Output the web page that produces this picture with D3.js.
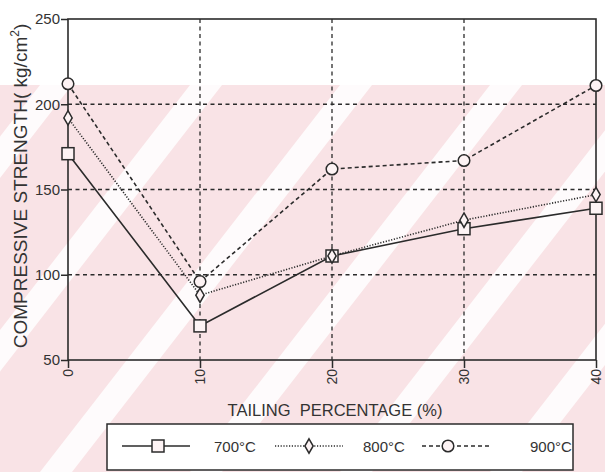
<!DOCTYPE html>
<html>
<head>
<meta charset="utf-8">
<script src="https://cdn.jsdelivr.net/npm/d3@7"></script>
<style>
  html, body { margin: 0; padding: 0; background: #fff; }
  svg { display: block; font-family: "Liberation Sans", Arial, Helvetica, sans-serif; }
</style>
</head>
<body>
<div id="chart"></div>
<script>
// ---- data ----
const categories = [0, 10, 20, 30, 40];
const s700 = [171, 70, 111, 127, 139];
const s800 = [192, 88, 111, 132, 147];
const s900 = [212, 96, 162, 167, 211];
const yTicks = [50, 100, 150, 200, 250];
const seriesNames = ["700°C", "800°C", "900°C"];

const W = 605, H = 472;
const svg = d3.select("#chart").append("svg").attr("width", W).attr("height", H);

// background watermark (decoration)
const bg = svg.append("g");
bg.append("rect").attr("x", 0).attr("y", 85).attr("width", W).attr("height", H - 85).attr("fill", "#f9e3e6");
const stripeOffsets = [-260, -110, 40, 190, 340, 490, 640];
stripeOffsets.forEach(o => {
  bg.append("polygon")
    .attr("points", `${o},${H} ${o + 32},${H} ${o + 32 + 300},85 ${o + 300},85`)
    .attr("fill", "#ffffff").attr("opacity", 0.85);
});

const x = d3.scaleLinear().domain([0, 40]).range([68, 596]);
const y = d3.scaleLinear().domain([50, 250]).range([360, 19]);
const ink = "#2b2b2b";

// grid (dashed)
const grid = svg.append("g").attr("stroke", ink).attr("stroke-width", 1.3).attr("stroke-dasharray", "4,3.5");
[100, 150, 200].forEach(v => grid.append("line").attr("x1", x(0)).attr("x2", x(40)).attr("y1", y(v)).attr("y2", y(v)));
[10, 20, 30].forEach(v => grid.append("line").attr("x1", x(v)).attr("x2", x(v)).attr("y1", y(250)).attr("y2", y(50)));

// frame
svg.append("rect").attr("x", x(0)).attr("y", y(250)).attr("width", x(40) - x(0)).attr("height", y(50) - y(250))
  .attr("fill", "none").attr("stroke", ink).attr("stroke-width", 1.6);

// axes
const yAxis = d3.axisLeft(y).tickValues(yTicks).tickSize(7).tickPadding(1).tickFormat(d3.format("d"));
const gy = svg.append("g").attr("transform", `translate(${x(0)},0)`).call(yAxis);
gy.select(".domain").remove();
gy.selectAll("line").attr("stroke", ink).attr("stroke-width", 1.5);
gy.selectAll("text").attr("font-size", 15).attr("fill", "#333").attr("font-family", "Liberation Sans, Arial, sans-serif");

const xAxis = d3.axisBottom(x).tickValues(categories).tickSize(8).tickFormat(d3.format("d"));
const gx = svg.append("g").attr("transform", `translate(0,${y(50)})`).call(xAxis);
gx.select(".domain").remove();
gx.selectAll("line").attr("stroke", ink).attr("stroke-width", 1.5);
gx.selectAll("text").attr("font-size", 14).attr("fill", "#333").attr("font-family", "Liberation Sans, Arial, sans-serif")
  .attr("transform", "rotate(-90)").attr("text-anchor", "end").attr("x", -9).attr("y", 0).attr("dy", "0.35em");

// axis titles
const yt = svg.append("text").attr("transform", `translate(27,186) rotate(-90)`)
  .attr("text-anchor", "middle").attr("font-size", 19).attr("fill", "#333");
yt.append("tspan").text("COMPRESSIVE STRENGTH( kg/cm");
yt.append("tspan").attr("font-size", 12).attr("dy", -8).text("2");
yt.append("tspan").attr("dy", 8).text(")");

svg.append("text").attr("x", 335).attr("y", 416).attr("text-anchor", "middle")
  .attr("font-size", 16.5).attr("fill", "#333").attr("xml:space", "preserve").text("TAILING  PERCENTAGE (%)");

// series
const series = [
  { name: seriesNames[0], values: s700, dash: null, width: 1.6, marker: "square" },
  { name: seriesNames[1], values: s800, dash: "1.2,1.6", width: 1.6, marker: "diamond" },
  { name: seriesNames[2], values: s900, dash: "4,3", width: 1.6, marker: "circle" }
];
const line = d3.line().x((d, i) => x(categories[i])).y(d => y(d));
const markerFill = "#fdf3f4";

function drawMarker(g, type, cx, cy) {
  if (type === "square") {
    g.append("rect").attr("x", cx - 6).attr("y", cy - 6).attr("width", 12).attr("height", 12)
      .attr("fill", markerFill).attr("stroke", ink).attr("stroke-width", 1.5);
  } else if (type === "diamond") {
    g.append("path").attr("d", d3.symbol().type(d3.symbolDiamond).size(60)())
      .attr("transform", `translate(${cx},${cy})`)
      .attr("fill", markerFill).attr("stroke", ink).attr("stroke-width", 1.5);
  } else {
    g.append("circle").attr("cx", cx).attr("cy", cy).attr("r", 5.8)
      .attr("fill", markerFill).attr("stroke", ink).attr("stroke-width", 1.5);
  }
}

series.forEach(s => {
  svg.append("path").datum(s.values).attr("d", line).attr("fill", "none")
    .attr("stroke", ink).attr("stroke-width", s.width).attr("stroke-dasharray", s.dash);
});
series.forEach(s => {
  const g = svg.append("g");
  s.values.forEach((v, i) => drawMarker(g, s.marker, x(categories[i]), y(v)));
});

// legend
const lg = svg.append("g");
lg.append("rect").attr("x", 107).attr("y", 424).attr("width", 466).attr("height", 46)
  .attr("fill", "#fff").attr("stroke", ink).attr("stroke-width", 1.5);
const legendItems = [
  { lx1: 122, lx2: 190, mx: 158, tx: 214 },
  { lx1: 275, lx2: 343, mx: 309, tx: 363 },
  { lx1: 422, lx2: 490, mx: 448, tx: 530 }
];
const ly = 446;
series.forEach((s, i) => {
  const it = legendItems[i];
  lg.append("line").attr("x1", it.lx1).attr("x2", it.lx2).attr("y1", ly).attr("y2", ly)
    .attr("stroke", ink).attr("stroke-width", s.width).attr("stroke-dasharray", s.dash);
  drawMarker(lg, s.marker, it.mx, ly);
  lg.append("text").attr("x", it.tx).attr("y", ly + 5.5).attr("font-size", 15).attr("fill", "#333").text(s.name);
});
</script>
</body>
</html>
